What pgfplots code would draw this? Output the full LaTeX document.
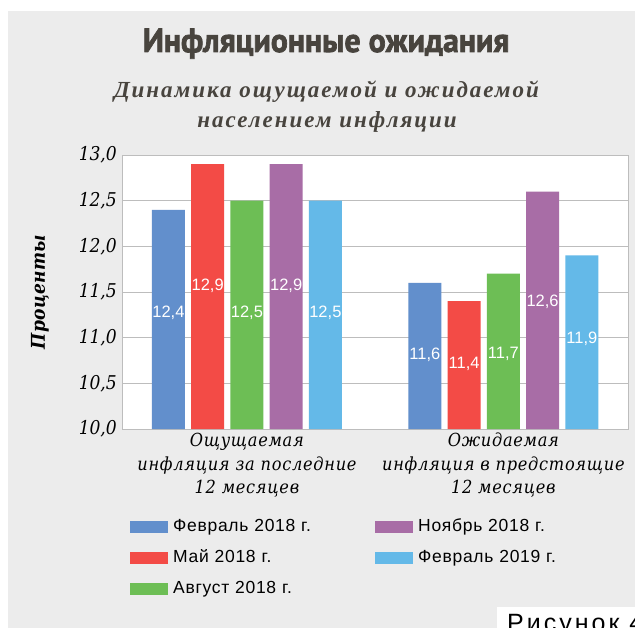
\documentclass[border=0pt]{standalone}
\usepackage{fontspec}
\usepackage{pgfplots}
\pgfplotsset{compat=1.18}
\setmainfont{DejaVu Serif}
\newfontfamily\titlefont{PT Sans}[BoldFeatures={FakeBold=2.2}]
\newfontfamily\subfont{Liberation Serif}[LetterSpace=8.5]
\newfontfamily\tickfont{DejaVu Serif Condensed Italic}
\newfontfamily\catfont{DejaVu Serif Condensed Italic}[LetterSpace=4]
\newfontfamily\ylabfont{DejaVu Serif Condensed Bold Italic}[LetterSpace=2]
\newfontfamily\legfont{Liberation Sans}[LetterSpace=4, WordSpace=2.2]
\newfontfamily\barfont{Liberation Sans}
\newfontfamily\risfont{Liberation Sans}[LetterSpace=12]
\definecolor{panel}{HTML}{ECECEC}
\definecolor{gridc}{HTML}{BDBDBD}
\definecolor{titc}{HTML}{48443E}
\definecolor{cblue}{HTML}{628FCC}
\definecolor{cred}{HTML}{F34B46}
\definecolor{cgreen}{HTML}{6DBE55}
\definecolor{cpurple}{HTML}{A86DA6}
\definecolor{ccyan}{HTML}{64B9E8}
\begin{document}
\begin{tikzpicture}
\useasboundingbox (0,0) rectangle (635pt,-628pt);
\fill[white] (0,0) rectangle (635pt,-628pt);
\fill[panel] (8pt,-11pt) rectangle (635pt,-628pt);
\node[anchor=base, inner sep=0pt, text=titc] at (326pt,-52pt)
  {\scalebox{0.95}[1]{\titlefont\bfseries\fontsize{33.5}{36}\selectfont Инфляционные ожидания}};
\node[anchor=base, inner sep=0pt, text=titc] at (326.5pt,-97.3pt)
  {\subfont\bfseries\itshape\fontsize{23}{30}\selectfont Динамика ощущаемой и ожидаемой};
\node[anchor=base, inner sep=0pt, text=titc] at (327pt,-127.3pt)
  {\subfont\bfseries\itshape\fontsize{23}{30}\selectfont населением инфляции};
\begin{axis}[
  at={(122pt,-429pt)}, anchor=south west,
  scale only axis, width=506pt, height=274pt,
  xmin=-0.487, xmax=1.486, ymin=10, ymax=13,
  axis background/.style={fill=white},
  axis line style={draw=gridc, line width=1pt},
  ymajorgrids, major grid style={draw=gridc, line width=1pt},
  tick style={draw=none},
  ytick={10,10.5,11,11.5,12,12.5,13},
  yticklabels={{10,0},{10,5},{11,0},{11,5},{12,0},{12,5},{13,0}},
  yticklabel style={font=\tickfont\fontsize{19}{22}\selectfont, inner sep=0pt, xshift=-5pt},
  xtick={0,1},
  xticklabels={{Ощущаемая\\инфляция за последние\\12 месяцев},{Ожидаемая\\инфляция в предстоящие\\12 месяцев}},
  xticklabel style={font=\catfont\fontsize{18}{23.5}\selectfont, align=center, inner sep=0pt, yshift=-4pt},
  ylabel={Проценты},
  ylabel style={font=\ylabfont\fontsize{19}{24}\selectfont, at={(axis description cs:-0.162,0.5)}, anchor=center},
  legend columns=2,
  legend cell align=left,
  legend image code/.code={\fill[#1, draw=none] (0pt,-5.8pt) rectangle (37.5pt,5.8pt);},
  legend style={at={(axis description cs:0.0158,-0.3294)}, anchor=north west, draw=none, fill=none,
    inner sep=0pt, row sep=15.5pt,
    nodes={inner sep=0pt, text width=150pt, text height=12pt, text depth=3.5pt, font=\legfont\fontsize{17.5}{20}\selectfont},
    /tikz/every odd column/.append style={column sep=5.5pt},
    /tikz/every even column/.append style={column sep=52pt}},
]
\addplot[fill=cblue, draw=none, ybar, bar width=0.1287, bar shift=-0.306, forget plot] coordinates {(0,12.4) (1,11.6)};
\addplot[fill=cred, draw=none, ybar, bar width=0.1287, bar shift=-0.153, forget plot] coordinates {(0,12.9) (1,11.4)};
\addplot[fill=cgreen, draw=none, ybar, bar width=0.1287, bar shift=0, forget plot] coordinates {(0,12.5) (1,11.7)};
\addplot[fill=cpurple, draw=none, ybar, bar width=0.1287, bar shift=0.153, forget plot] coordinates {(0,12.9) (1,12.6)};
\addplot[fill=ccyan, draw=none, ybar, bar width=0.1287, bar shift=0.306, forget plot] coordinates {(0,12.5) (1,11.9)};
\addplot[draw=none, mark=none, forget plot, nodes near coords, point meta=explicit symbolic,
  nodes near coords style={anchor=center, text=white, inner sep=0pt, font=\barfont\fontsize{16.5}{18}\selectfont}]
  table[x=x, y=y, meta=lab] {
x y lab
-0.306 11.27 12,4
-0.153 11.57 12,9
0 11.27 12,5
0.153 11.57 12,9
0.306 11.27 12,5
0.694 10.81 11,6
0.847 10.71 11,4
1.0 10.82 11,7
1.153 11.39 12,6
1.306 10.985 11,9
};
\addlegendimage{fill=cblue, draw=none}\addlegendentry{Февраль 2018 г.}
\addlegendimage{fill=cpurple, draw=none}\addlegendentry{Ноябрь 2018 г.}
\addlegendimage{fill=cred, draw=none}\addlegendentry{Май 2018 г.}
\addlegendimage{fill=ccyan, draw=none}\addlegendentry{Февраль 2019 г.}
\addlegendimage{fill=cgreen, draw=none}\addlegendentry{Август 2018 г.}
\end{axis}
\fill[white] (497pt,-607pt) rectangle (635pt,-628pt);
\node[anchor=base west, inner sep=0pt, text=black] at (507pt,-631pt)
  {\risfont\fontsize{25}{27}\selectfont Рисунок 4};
\end{tikzpicture}
\end{document}
